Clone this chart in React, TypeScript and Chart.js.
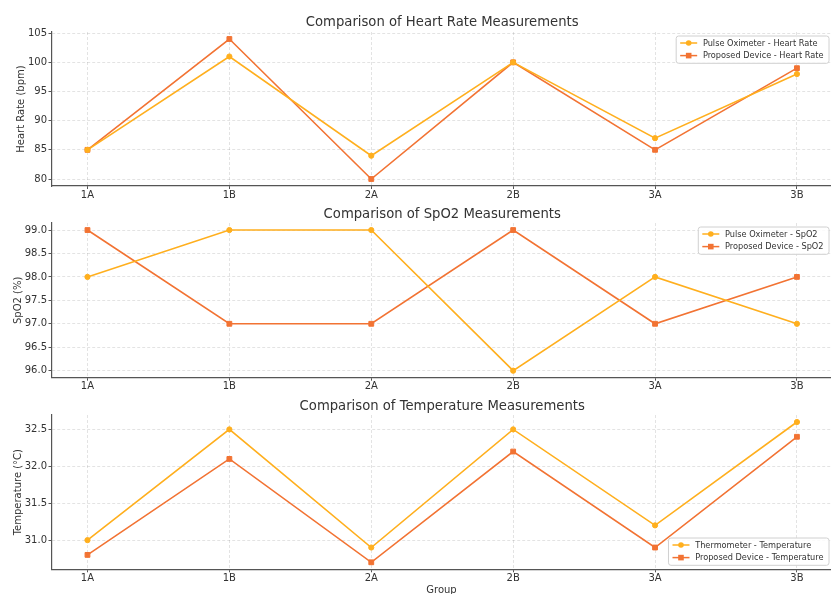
import React, { useEffect, useRef } from "react";
import { Chart, registerables } from "chart.js";

Chart.register(...registerables);

// ---- data ----
const groups = ["1A", "1B", "2A", "2B", "3A", "3B"];
const hrPulse = [85, 101, 84, 100, 87, 98];
const hrProposed = [85, 104, 80, 100, 85, 99];
const spo2Pulse = [98, 99, 99, 96, 98, 97];
const spo2Proposed = [99, 97, 97, 99, 97, 98];
const tempThermo = [31.0, 32.5, 30.9, 32.5, 31.2, 32.6];
const tempProposed = [30.8, 32.1, 30.7, 32.2, 30.9, 32.4];

const FONT = '"DejaVu Sans", "Liberation Sans", sans-serif';
const C1 = "#FFAF1E";
const C2 = "#F27333";
const TXT = "#333333";

type Series = { label: string; values: number[]; color: string; style: "circle" | "rect" };
type PanelCfg = {
  top: number;
  height: number;
  padTop: number;
  xHeight: number;
  title: string;
  titleBaseline: number;
  yLabel: string;
  yLabelPad: number;
  yStep: number;
  decimals: number;
  series: Series[];
  legendCorner: "top" | "bottom";
  xTitle?: string;
};

const panels: PanelCfg[] = [
  {
    top: 0, height: 200, padTop: 32, xHeight: 14,
    title: "Comparison of Heart Rate Measurements", titleBaseline: 25.5,
    yLabel: "Heart Rate (bpm)", yLabelPad: 15.5, yStep: 5, decimals: 0,
    series: [
      { label: "Pulse Oximeter - Heart Rate", values: hrPulse, color: C1, style: "circle" },
      { label: "Proposed Device - Heart Rate", values: hrProposed, color: C2, style: "rect" },
    ],
    legendCorner: "top",
  },
  {
    top: 200, height: 195, padTop: 23, xHeight: 17.3,
    title: "Comparison of SpO2 Measurements", titleBaseline: 18.3,
    yLabel: "SpO2 (%)", yLabelPad: 12.3, yStep: 0.5, decimals: 1,
    series: [
      { label: "Pulse Oximeter - SpO2", values: spo2Pulse, color: C1, style: "circle" },
      { label: "Proposed Device - SpO2", values: spo2Proposed, color: C2, style: "rect" },
    ],
    legendCorner: "top",
  },
  {
    top: 395, height: 199, padTop: 20, xHeight: 24.7,
    title: "Comparison of Temperature Measurements", titleBaseline: 15,
    yLabel: "Temperature (°C)", yLabelPad: 12.3, yStep: 0.5, decimals: 1,
    series: [
      { label: "Thermometer - Temperature", values: tempThermo, color: C1, style: "circle" },
      { label: "Proposed Device - Temperature", values: tempProposed, color: C2, style: "rect" },
    ],
    legendCorner: "bottom",
    xTitle: "Group",
  },
];

function makePlugin(cfg: PanelCfg) {
  return {
    id: "titleLegend",
    afterDraw(chart: any) {
      const ctx = chart.ctx as CanvasRenderingContext2D;
      const area = chart.chartArea;
      ctx.save();
      // title
      ctx.font = `13.2px ${FONT}`;
      ctx.fillStyle = TXT;
      ctx.textAlign = "center";
      ctx.textBaseline = "alphabetic";
      ctx.fillText(cfg.title, (area.left + area.right) / 2 + 0.7, cfg.titleBaseline);

      // legend
      ctx.font = `8.2px ${FONT}`;
      const tw = Math.max(...cfg.series.map((s) => ctx.measureText(s.label).width));
      const w = tw + 26.7 + 5.5;
      const h = 27.3;
      const right = area.right - 2;
      const left = right - w;
      const top = cfg.legendCorner === "top" ? area.top + 4 : area.bottom - 4 - h;
      ctx.beginPath();
      (ctx as any).roundRect(left, top, w, h, 2.5);
      ctx.fillStyle = "rgba(255,255,255,0.8)";
      ctx.fill();
      ctx.strokeStyle = "#d0d0d0";
      ctx.lineWidth = 1;
      ctx.stroke();
      cfg.series.forEach((s, i) => {
        const y = top + 7 + i * 12.6;
        ctx.strokeStyle = s.color;
        ctx.lineWidth = 1.5;
        ctx.beginPath();
        ctx.moveTo(left + 4, y);
        ctx.lineTo(left + 21, y);
        ctx.stroke();
        ctx.fillStyle = s.color;
        ctx.beginPath();
        if (s.style === "circle") {
          ctx.arc(left + 12.5, y, 2.8, 0, Math.PI * 2);
        } else {
          ctx.rect(left + 12.5 - 2.8, y - 2.8, 5.6, 5.6);
        }
        ctx.fill();
        ctx.fillStyle = TXT;
        ctx.textAlign = "left";
        ctx.textBaseline = "middle";
        ctx.fillText(s.label, left + 26.7, y + 0.5);
      });
      ctx.restore();
    },
  };
}

function Panel({ cfg }: { cfg: PanelCfg }) {
  const ref = useRef<HTMLCanvasElement>(null);
  useEffect(() => {
    const all = cfg.series.flatMap((s) => s.values);
    const lo = Math.min(...all);
    const hi = Math.max(...all);
    const m = (hi - lo) * 0.05;
    const chart = new Chart(ref.current as HTMLCanvasElement, {
      type: "line",
      data: {
        datasets: cfg.series.map((s) => ({
          label: s.label,
          data: s.values.map((v, i) => ({ x: i, y: v })),
          borderColor: s.color,
          backgroundColor: s.color,
          borderWidth: 1.6,
          pointStyle: s.style,
          pointRadius: s.style === "circle" ? 2.6 : 3.4,
          pointBorderWidth: 1,
          pointBorderColor: s.color,
          pointBackgroundColor: s.color,
          tension: 0,
        })),
      },
      options: {
        responsive: false,
        animation: false,
        devicePixelRatio: 1,
        layout: { autoPadding: false, padding: { top: cfg.padTop, left: 0, right: 0, bottom: 0 } },
        plugins: { legend: { display: false }, tooltip: { enabled: false }, title: { display: false } },
        scales: {
          x: {
            type: "linear",
            min: -0.25,
            max: 5.24,
            afterFit: (scale: any) => {
              scale.height = cfg.xHeight;
              scale.paddingLeft = 0;
              scale.paddingRight = 0;
            },
            ticks: {
              stepSize: 1,
              autoSkip: false,
              maxRotation: 0,
              includeBounds: false,
              padding: 0,
              color: TXT,
              font: { family: FONT, size: 10 },
              callback: (v: any) => groups[v as number] ?? "",
            },
            grid: {
              color: "rgba(0,0,0,0.14)",
              lineWidth: 0.8,
              tickColor: "#555",
              tickLength: 3,
              tickWidth: 1,
            },
            border: { display: true, color: "#555", width: 1.2, dash: [3, 2] },
            title: cfg.xTitle
              ? { display: true, text: cfg.xTitle, color: TXT, font: { family: FONT, size: 10 }, padding: { top: 0, bottom: -2 } }
              : { display: false },
          },
          y: {
            type: "linear",
            min: lo - m,
            max: hi + m,
            afterFit: (scale: any) => {
              scale.width = 52;
              scale.paddingTop = 0;
              scale.paddingBottom = 0;
            },
            ticks: {
              stepSize: cfg.yStep,
              includeBounds: false,
              padding: 1.5,
              color: TXT,
              font: { family: FONT, size: 10 },
              callback: (v: any) => Number(v).toFixed(cfg.decimals),
            },
            grid: {
              color: "rgba(0,0,0,0.14)",
              lineWidth: 0.8,
              tickColor: "#555",
              tickLength: 3.5,
              tickWidth: 1,
            },
            border: { display: true, color: "#555", width: 1.2, dash: [3, 2] },
            title: {
              display: true,
              text: cfg.yLabel,
              color: TXT,
              font: { family: FONT, size: 10 },
              padding: { top: cfg.yLabelPad, bottom: 0 },
            },
          },
        },
      } as any,
      plugins: [makePlugin(cfg)],
    });
    return () => chart.destroy();
  }, []);
  return (
    <canvas
      ref={ref}
      width={831}
      height={cfg.height}
      style={{ position: "absolute", left: 0, top: cfg.top, width: 831, height: cfg.height }}
    />
  );
}

export default function App() {
  return (
    <div style={{ position: "absolute", left: 0, top: 0, width: 831, height: 594, background: "#fff", overflow: "hidden" }}>
      {panels.map((p, i) => (
        <Panel key={i} cfg={p} />
      ))}
    </div>
  );
}
